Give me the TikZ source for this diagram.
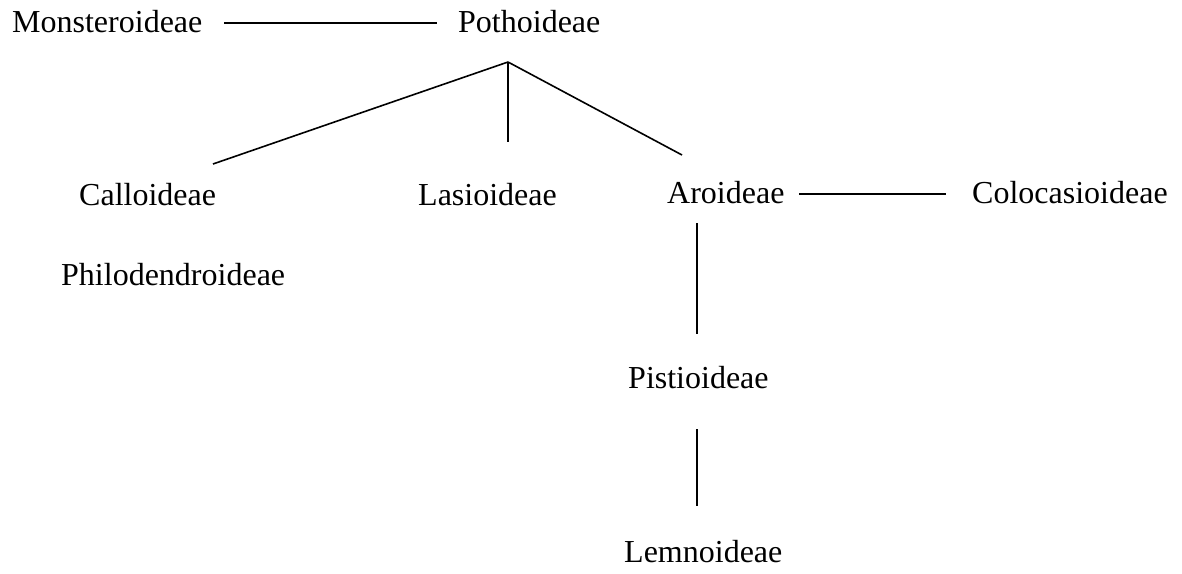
\documentclass[tikz,border=0pt]{standalone}
\usepackage{fontspec}
\setmainfont{Liberation Serif}
\begin{document}
\begin{tikzpicture}[x=1pt,y=-1pt,
  taxon/.style={anchor=base west,inner sep=0pt,font=\fontsize{32}{38}\selectfont},
  link/.style={line width=1.6pt,line cap=butt}]
\useasboundingbox[fill=white] (0,0) rectangle (1182,573);
% taxa
\node[taxon] (mon) at (12,32) {Monsteroideae};
\node[taxon] (pot) at (458,32) {Pothoideae};
\node[taxon] (cal) at (79,205) {Calloideae};
\node[taxon] (las) at (418,205) {Lasioideae};
\node[taxon] (aro) at (667,203) {Aroideae};
\node[taxon] (col) at (972,203) {Colocasioideae};
\node[taxon] (phi) at (61,285) {Philodendroideae};
\node[taxon] (pis) at (628,388) {Pistioideae};
\node[taxon] (lem) at (624,562) {Lemnoideae};
% connector ends
\coordinate (monR) at (224,23);
\coordinate (potL) at (437,23);
\coordinate (apex) at (508,62);
\coordinate (calT) at (213,164);
\coordinate (lasT) at (508,142);
\coordinate (aroT) at (682,155);
\coordinate (aroR) at (799,194);
\coordinate (colL) at (946,194);
\coordinate (aroB) at (697,223);
\coordinate (pisT) at (697,334);
\coordinate (pisB) at (697,429);
\coordinate (lemT) at (697,506);
% connectors
\draw[link] (monR) -- (potL);
\draw[link] (apex) -- (calT);
\draw[link] (apex) -- (lasT);
\draw[link] (apex) -- (aroT);
\draw[link] (aroR) -- (colL);
\draw[link] (aroB) -- (pisT);
\draw[link] (pisB) -- (lemT);
\end{tikzpicture}
\end{document}
